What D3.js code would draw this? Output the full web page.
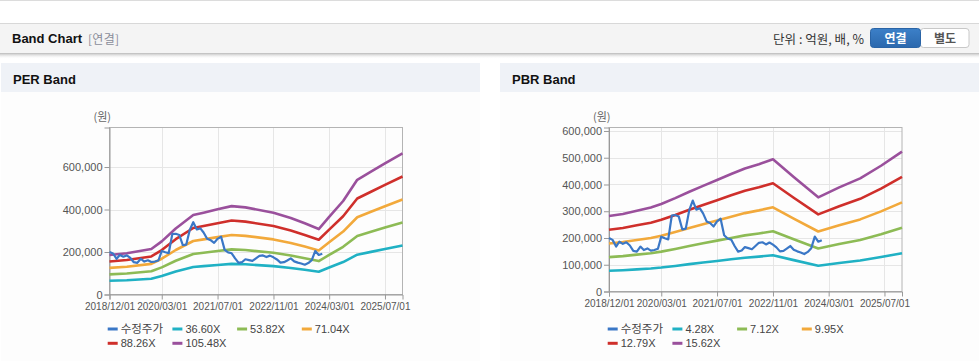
<!DOCTYPE html>
<html><head><meta charset="utf-8">
<script src="https://cdn.jsdelivr.net/npm/d3@7"></script>
<style>
html,body{margin:0;padding:0;background:#fff;overflow:hidden}
svg{display:block}
text{font-family:"Liberation Sans",Arial,"Noto Sans CJK KR",sans-serif}
.kr{font-family:"Noto Sans CJK KR","Liberation Sans",sans-serif}
</style></head><body><svg id="c" width="979" height="361"></svg>
<script>
// ---------- DATA ----------
const xTickLabels = ["2018/12/01","2020/03/01","2021/07/01","2022/11/01","2024/03/01","2025/07/01"];
const xDomain = ["2018-12","2025-12"];

const priceStart = "2018-12";
const price = [200,193,168,186,178,184,172,152,149,168,155,161,153,155,160,205,199,195,284,286,
  280,232,235,305,340,306,311,292,262,256,243,262,272,210,198,194,170,149,153,166,
  162,158,170,182,184,176,183,175,165,150,152,160,170,156,150,146,140,148,162,205,186,192];

const perDates = ["2018-12","2019-05","2019-12","2020-03","2020-07","2020-12","2021-03","2021-07","2021-11","2022-03",
  "2022-11","2023-04","2023-08","2023-12","2024-03","2024-07","2024-11","2025-03","2025-07","2025-12"];
const per36 = [64.5,67.3,74.3,86.7,107.9,129.8,133.6,139.1,144.3,142.3,133.6,124.9,116.2,106.9,126.7,152.7,187.4,200.6,214.1,230.4];
const per53 = [94.9,99.0,109.2,127.6,158.7,190.8,196.4,204.6,212.3,209.2,196.4,183.7,170.9,157.2,186.2,224.5,275.5,294.9,314.8,338.8];
const per71 = [125.3,130.7,144.1,168.4,209.5,251.9,259.3,270.1,280.2,276.1,259.3,242.5,225.6,207.4,245.8,296.3,363.7,389.3,415.5,447.2];
const per88 = [155.6,162.3,179.1,209.2,260.2,312.9,322.1,335.5,348.1,343.1,322.1,301.2,280.3,257.7,305.4,368.2,451.8,483.6,516.3,555.6];
const per105 = [186,194,214,250,311,374,385,401,416,410,385,360,335,308,365,440,540,578,617,664];
const perNames = ["수정주가","36.60X","53.82X","71.04X","88.26X","105.48X"];
const perYTicks = [0,200000,400000,600000];

const pbrDates = ["2018-12","2019-04","2019-08","2019-12","2020-03","2020-07","2020-11","2021-03","2021-07","2021-11",
  "2022-03","2022-07","2022-11","2023-05","2023-12","2024-06","2024-12","2025-06","2025-12"];
const pbr4 = [77.3,79.5,82.8,86.0,89.6,95.6,102.2,108.2,114.3,120.3,126.0,130.4,135.4,117.3,96.5,106.6,115.9,128.8,143.3];
const pbr7 = [128.5,132.2,137.7,143.1,149.1,159.1,170.0,180.1,190.1,200.1,209.7,217.0,225.2,195.1,160.5,177.3,192.8,214.2,238.4];
const pbr9 = [179.6,184.7,192.4,200.0,208.3,222.3,237.6,251.6,265.6,279.6,293.0,303.2,314.7,272.6,224.2,247.8,269.5,299.4,333.2];
const pbr12 = [230.9,237.5,247.3,257.1,267.8,285.8,305.4,323.4,341.4,359.5,376.7,389.8,404.5,350.5,288.2,318.5,346.4,384.8,428.2];
const pbr15 = [282,290,302,314,327,349,373,395,417,439,460,476,494,428,352,389,423,470,523];
const pbrNames = ["수정주가","4.28X","7.12X","9.95X","12.79X","15.62X"];
const pbrYTicks = [0,100000,200000,300000,400000,500000,600000];

const colors = ["#3a77c6","#20b1c4","#8dbb55","#f2a93b","#cf2f2b","#9a509c"];
const UNIT = 1000; // values above are in thousands of 원

// ---------- DRAW ----------
const svg = d3.select("#c");
const parseM = d3.timeParse("%Y-%m");
const parseT = d3.timeParse("%Y/%m/%d");

// page chrome
const defs = svg.append("defs");
const sh = defs.append("linearGradient").attr("id","sh").attr("x1",0).attr("x2",0).attr("y1",0).attr("y2",1);
sh.append("stop").attr("offset","0%").attr("stop-color","#cfcfcf");
sh.append("stop").attr("offset","100%").attr("stop-color","#ffffff").attr("stop-opacity",0);
const bg = defs.append("linearGradient").attr("id","bb").attr("x1",0).attr("x2",0).attr("y1",0).attr("y2",1);
bg.append("stop").attr("offset","0%").attr("stop-color","#3c80c8");
bg.append("stop").attr("offset","100%").attr("stop-color","#2b68ad");

svg.append("rect").attr("x",0).attr("y",0).attr("width",979).attr("height",1).attr("fill","#dcdcdc");
svg.append("rect").attr("x",0).attr("y",23).attr("width",979).attr("height",30).attr("fill","#f4f4f4");
svg.append("rect").attr("x",0).attr("y",23).attr("width",979).attr("height",1).attr("fill","#d8d8d8");
svg.append("rect").attr("x",0).attr("y",53).attr("width",979).attr("height",1).attr("fill","#c4c4c4");
svg.append("rect").attr("x",0).attr("y",54).attr("width",979).attr("height",5).attr("fill","url(#sh)");

svg.append("text").attr("x",12).attr("y",43).attr("font-size",13).attr("font-weight","bold").attr("fill","#111").text("Band Chart");
svg.append("text").attr("class","kr").attr("x",88).attr("y",44).attr("font-size",12).attr("fill","#8a8d9a")
  .attr("textLength",31).attr("lengthAdjust","spacing").text("[연결]");
svg.append("text").attr("class","kr").attr("x",773).attr("y",44).attr("font-size",12.5).attr("fill","#333")
  .attr("textLength",91).attr("lengthAdjust","spacing").text("단위 : 억원, 배, %");

svg.append("rect").attr("x",920.5).attr("y",28.5).attr("width",48.5).attr("height",19).attr("rx",3).attr("fill","#fff").attr("stroke","#c8c8c8");
svg.append("rect").attr("x",870.5).attr("y",28.5).attr("width",50).attr("height",19).attr("rx",3).attr("fill","url(#bb)").attr("stroke","#2a64a6");
svg.append("text").attr("class","kr").attr("x",895.5).attr("y",42.5).attr("font-size",12).attr("font-weight","bold").attr("text-anchor","middle").attr("fill","#fff").text("연결");
svg.append("text").attr("class","kr").attr("x",945).attr("y",42.5).attr("font-size",12).attr("font-weight","bold").attr("text-anchor","middle").attr("fill","#555").text("별도");

function panel(px, w, title) {
  svg.append("rect").attr("x",px).attr("y",92).attr("width",w).attr("height",269).attr("fill","#fdfdfd");
  svg.append("rect").attr("x",px).attr("y",63).attr("width",w).attr("height",29).attr("fill","#eff2f7");
  svg.append("text").attr("x",px+12).attr("y",84).attr("font-size",13).attr("font-weight","bold").attr("fill","#111").text(title);
}
panel(1,479,"PER Band");
panel(500,479,"PBR Band");

function chart(cfg) {
  const g = svg.append("g");
  const x = d3.scaleTime().domain(xDomain.map(parseM)).range([cfg.x0, cfg.x1]);
  const y = d3.scaleLinear().domain([0, cfg.ymax]).range([cfg.y0, cfg.y1]);
  const xt = xTickLabels.map(parseT);

  // grid
  g.selectAll(".vg").data(xt.slice(1)).join("line")
    .attr("x1",d=>Math.round(x(d))+0.5).attr("x2",d=>Math.round(x(d))+0.5)
    .attr("y1",cfg.y1).attr("y2",cfg.y0).attr("stroke","#e6e6e6");
  g.selectAll(".hg").data(cfg.yTicks.slice(1)).join("line")
    .attr("x1",cfg.x0).attr("x2",cfg.x1)
    .attr("y1",d=>Math.round(y(d))+0.5).attr("y2",d=>Math.round(y(d))+0.5).attr("stroke","#e6e6e6");
  // box
  g.append("rect").attr("x",cfg.x0).attr("y",cfg.y1).attr("width",cfg.x1-cfg.x0).attr("height",cfg.y0-cfg.y1)
    .attr("fill","none").attr("stroke","#b4b4b4");

  // axes
  const ya = g.append("g").attr("transform",`translate(${cfg.x0},0)`)
    .call(d3.axisLeft(y).tickValues(cfg.yTicks).tickSize(5).tickPadding(2).tickFormat(d3.format(",")));
  ya.select(".domain").attr("stroke","#999");
  ya.selectAll(".tick line").attr("stroke","#999");
  ya.selectAll("text").attr("font-size",11).attr("fill","#555").attr("font-family",'"Liberation Sans",Arial,sans-serif');

  const xa = g.append("g").attr("transform",`translate(0,${cfg.y0})`)
    .call(d3.axisBottom(x).tickValues(xt).tickSize(5).tickPadding(3).tickFormat(d3.timeFormat("%Y/%m/%d")));
  xa.select(".domain").attr("stroke","#999");
  xa.selectAll(".tick line").attr("stroke","#999");
  xa.selectAll("text").attr("font-size",10).attr("fill","#555").attr("font-family",'"Liberation Sans",Arial,sans-serif');

  g.append("text").attr("class","kr").attr("x",cfg.x0-16).attr("y",121).attr("font-size",11).attr("fill","#666").text("(원)");

  const line = d3.line().x(d=>x(d[0])).y(d=>y(d[1]*UNIT));
  const bandDates = cfg.dates.map(parseM);
  cfg.bands.forEach((b,i)=>{
    g.append("path").datum(bandDates.map((d,j)=>[d,b[j]]))
      .attr("d",line).attr("fill","none").attr("stroke",colors[i+1]).attr("stroke-width",2.6).attr("stroke-linejoin","round");
  });
  const p0 = parseM(priceStart);
  g.append("path").datum(price.map((v,j)=>[d3.timeMonth.offset(p0,j),v]))
    .attr("d",line).attr("fill","none").attr("stroke",colors[0]).attr("stroke-width",2.2).attr("stroke-linejoin","round");

  // legend
  cfg.names.forEach((n,i)=>{
    const lx = cfg.lx + (i%4)*64.7, ly = 329 + Math.floor(i/4)*14.3;
    g.append("line").attr("x1",lx).attr("x2",lx+10).attr("y1",ly).attr("y2",ly).attr("stroke",colors[i]).attr("stroke-width",3);
    g.append("text").attr("class", i===0?"kr":null).attr("x",lx+13).attr("y",ly+4).attr("font-size",i===0?11.5:11).attr("fill","#444").text(n);
  });
}

chart({x0:109.5,x1:402.5,y0:294.5,y1:127.5,ymax:786000,yTicks:perYTicks,dates:perDates,
  bands:[per36,per53,per71,per88,per105],names:perNames,lx:107.7});
chart({x0:609,x1:902,y0:291.5,y1:127.5,ymax:613000,yTicks:pbrYTicks,dates:pbrDates,
  bands:[pbr4,pbr7,pbr9,pbr12,pbr15],names:pbrNames,lx:607.7});
</script></body></html>
